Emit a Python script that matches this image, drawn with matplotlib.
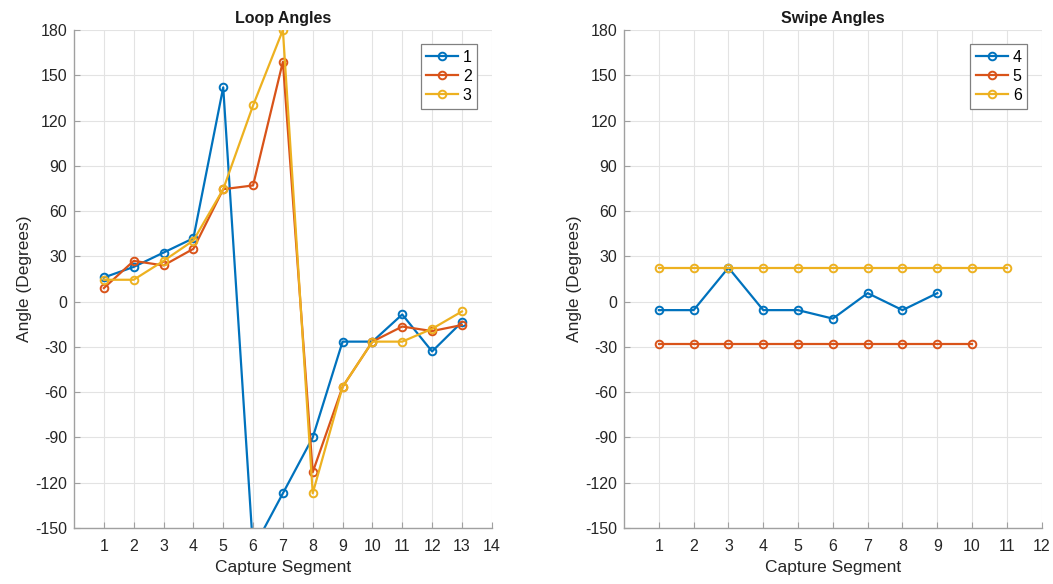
import matplotlib
matplotlib.use("Agg")
import matplotlib.pyplot as plt

# loop angles, capture segments 1..13
loop_x = list(range(1, 14))
loop_1 = [16, 23, 32.5, 42, 142, -164, -127, -90, -26.5, -26.5, -8.5, -33, -13.5]
loop_2 = [9, 27, 24, 35, 74.5, 77, 159, -113, -56.5, -26.5, -16.5, -19.5, -15.5]
loop_3 = [14.5, 14.5, 27, 40.5, 74.5, 130, 180, -127, -56.5, -26.5, -26.5, -18, -6.5]

# swipe angles
swipe_4 = [-5.625, -5.625, 22.5, -5.625, -5.625, -11.25, 5.625, -5.625, 5.625]
swipe_5 = [-28.125] * 10
swipe_6 = [22.5] * 11

colors = ['#0072BD', '#D95319', '#EDB120']
yticks = list(range(-150, 181, 30))

plt.rcParams['font.family'] = ['Liberation Sans', 'DejaVu Sans']
plt.rcParams['axes.unicode_minus'] = False

fig = plt.figure(figsize=(10.53, 5.84), dpi=100)
ax1 = fig.add_axes([0.0703, 0.0959, 0.3967, 0.8527])
ax2 = fig.add_axes([0.5926, 0.0959, 0.3967, 0.8527])


def style(ax, xmax, title):
    ax.set_xlim(0, xmax)
    ax.set_ylim(-150, 180)
    ax.set_xticks(range(1, xmax + 1))
    ax.set_yticks(yticks)
    ax.grid(True, color='#e3e3e3', linewidth=0.8)
    ax.set_axisbelow(True)
    for s in ['top', 'right']:
        ax.spines[s].set_visible(False)
    for s in ['left', 'bottom']:
        ax.spines[s].set_color('#a0a0a0')
        ax.spines[s].set_linewidth(1.0)
    ax.tick_params(direction='in', length=4, colors='#a0a0a0', labelcolor='#262626', labelsize=11.5)
    ax.tick_params(axis='x', pad=8)
    ax.tick_params(axis='y', pad=5)
    ax.set_xlabel('Capture Segment', fontsize=12.5, color='#262626', labelpad=4)
    ax.set_ylabel('Angle (Degrees)', fontsize=12.5, color='#262626', labelpad=2)
    ax.set_title(title, fontsize=11.5, fontweight='bold', color='#1a1a1a', pad=5)


series_left = [loop_1, loop_2, loop_3]
for i, vals in enumerate(series_left):
    ax1.plot(loop_x, vals, '-o', color=colors[i], linewidth=1.6, markersize=5.5,
             markerfacecolor='none', markeredgewidth=1.4, label=str(i + 1))
style(ax1, 14, 'Loop Angles')

series_right = [swipe_4, swipe_5, swipe_6]
for i, vals in enumerate(series_right):
    xs = list(range(1, len(vals) + 1))
    ax2.plot(xs, vals, '-o', color=colors[i], linewidth=1.6, markersize=5.5,
             markerfacecolor='none', markeredgewidth=1.4, label=str(i + 4))
style(ax2, 12, 'Swipe Angles')

for ax in (ax1, ax2):
    leg = ax.legend(loc='upper right', fontsize=11.5, fancybox=False, framealpha=1,
                    handlelength=2.0, handletextpad=0.3, borderpad=0.35,
                    labelspacing=0.25, borderaxespad=0.9)
    leg.get_frame().set_edgecolor('#808080')
    leg.get_frame().set_linewidth(0.9)

fig.savefig('out.png', dpi=100)
